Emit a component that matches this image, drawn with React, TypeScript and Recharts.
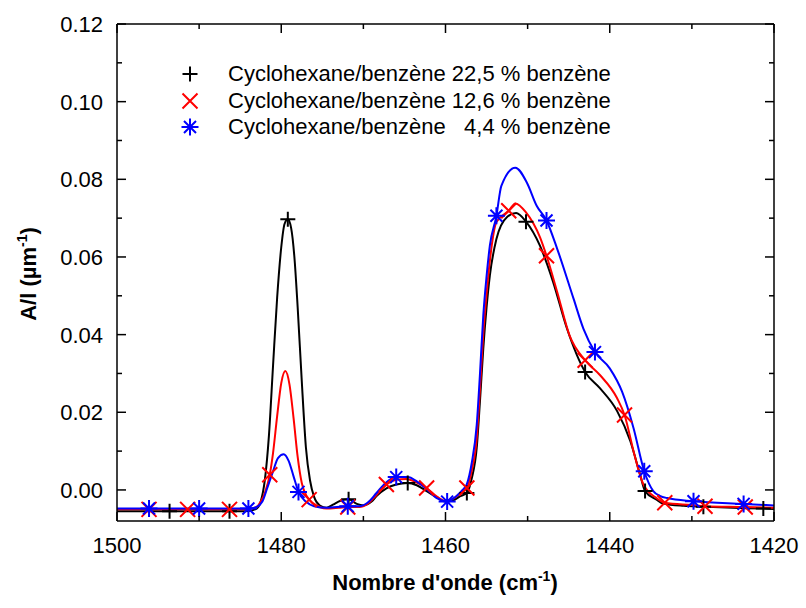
import React from "react";
import { ComposedChart, Line, Scatter, XAxis, YAxis, Legend } from "recharts";

type Pt = [number, number];

const FONT = "'Liberation Sans', Arial, sans-serif";

const xTicks = [1500, 1490, 1480, 1470, 1460, 1450, 1440, 1430, 1420];
const yTicks = [0, 0.01, 0.02, 0.03, 0.04, 0.05, 0.06, 0.07, 0.08, 0.09, 0.1, 0.11, 0.12];

const seriesNames = [
  "Cyclohexane/benzène 22,5 % benzène",
  "Cyclohexane/benzène 12,6 % benzène",
  "Cyclohexane/benzène   4,4 % benzène",
];

// curves (x = nombre d'onde, y = A/l)
const blackCurve: Pt[] = [
  [1500, -0.0055], [1490, -0.0055], [1485, -0.0055], [1484, -0.0054], [1483, -0.0048],
  [1482.5, -0.003], [1482, 0.0025], [1481.5, 0.014], [1481, 0.032], [1480.5, 0.0495],
  [1480, 0.0625], [1479.6, 0.0685], [1479.2, 0.0697], [1478.8, 0.0675], [1478.4, 0.06],
  [1478, 0.047], [1477.5, 0.028], [1477, 0.011], [1476.5, 0.0025], [1476, -0.0018],
  [1475.3, -0.004], [1474.5, -0.0046], [1473.7, -0.0038], [1472.8, -0.0028], [1471.8, -0.0024],
  [1470.8, -0.0036], [1470, -0.004], [1469, -0.003], [1468.4, -0.0016], [1467.2, 0.0004],
  [1466, 0.0014], [1464.6, 0.0018], [1463.5, 0.0012], [1462.3, -0.0003], [1461, -0.002],
  [1460, -0.003], [1459, -0.0026], [1458.2, -0.0016], [1457.4, -0.0008], [1456.8, 0.003],
  [1456.2, 0.0108], [1455.8, 0.023], [1455.4, 0.0364], [1455, 0.047], [1454.6, 0.0552],
  [1453.8, 0.0646], [1452.5, 0.0703], [1451.4, 0.0713], [1450.2, 0.0691], [1448.5, 0.0629],
  [1446.9, 0.0536], [1445.2, 0.0415], [1443, 0.0304], [1441.2, 0.0262], [1439.1, 0.0203],
  [1437.5, 0.0126], [1436.3, 0.0039], [1435.7, -0.0003], [1434.3, -0.0025], [1433.5, -0.0035],
  [1431, -0.0041], [1428.6, -0.0043], [1425, -0.0046], [1421.3, -0.0048], [1420, -0.0049],
];

const redCurve: Pt[] = [
  [1500, -0.005], [1490, -0.005], [1485, -0.005], [1484, -0.0049], [1483, -0.0044],
  [1482.5, -0.003], [1482, -0.0008], [1481.4, 0.0039], [1481, 0.0095], [1480.5, 0.019],
  [1480, 0.0275], [1479.5, 0.0306], [1479, 0.0272], [1478.5, 0.0185], [1478, 0.0085],
  [1477.5, 0.0018], [1476.6, -0.0025], [1475.5, -0.0042], [1474.5, -0.0048], [1473, -0.0046],
  [1471.9, -0.0044], [1470.5, -0.0044], [1469.5, -0.0036], [1468.4, -0.0013], [1467.2, 0.0014],
  [1466, 0.0026], [1464.8, 0.0028], [1463.5, 0.0019], [1462.3, 0.0005], [1461, -0.0018],
  [1460, -0.0028], [1459, -0.0022], [1458.2, -0.0008], [1457.4, 0.0005], [1456.8, 0.005],
  [1456.2, 0.0133], [1455.8, 0.026], [1455.4, 0.0402], [1455, 0.0505], [1454.6, 0.059],
  [1453.8, 0.069], [1452.3, 0.0719], [1451.5, 0.0738], [1450.2, 0.0715], [1448.5, 0.0651],
  [1447.7, 0.0603], [1446.4, 0.051], [1444.9, 0.0398], [1443, 0.0334], [1441.2, 0.0296],
  [1439.1, 0.0236], [1438.2, 0.0193], [1437, 0.0091], [1435.9, 0.0014], [1434.3, -0.0021],
  [1433.3, -0.0033], [1430, -0.0039], [1428.4, -0.0042], [1423.5, -0.0044], [1420, -0.0046],
];

const blueCurve: Pt[] = [
  [1500, -0.0048], [1490, -0.0048], [1484, -0.0048], [1483, -0.0044], [1482.3, -0.003],
  [1481.7, 0.0005], [1481, 0.0048], [1480.4, 0.0082], [1479.7, 0.0092], [1479.1, 0.0075],
  [1478.5, 0.0035], [1477.9, -0.0005], [1477, -0.003], [1476, -0.0042], [1474.5, -0.0046],
  [1471.9, -0.0042], [1470.5, -0.0042], [1469.5, -0.0033], [1468.4, -0.0008], [1467.3, 0.0018],
  [1466, 0.0033], [1464.6, 0.0033], [1463.5, 0.0022], [1462.3, 0.0002], [1461, -0.0022],
  [1459.8, -0.003], [1458.8, -0.0018], [1458, -0.0002], [1457.4, 0.0015], [1456.8, 0.007],
  [1456.2, 0.0167], [1455.8, 0.03], [1455.4, 0.0449], [1455, 0.055], [1454.6, 0.0629],
  [1453.8, 0.0706], [1453.2, 0.0783], [1451.5, 0.083], [1450.1, 0.0792], [1448.9, 0.0732],
  [1447.7, 0.0694], [1446.4, 0.0621], [1444.4, 0.0492], [1443.2, 0.0415], [1441.8, 0.0355],
  [1440, 0.0313], [1438.5, 0.0253], [1437.1, 0.0159], [1435.8, 0.0048], [1434.7, -0.0003],
  [1433.9, -0.0015], [1433, -0.0021], [1429.8, -0.0029], [1423.7, -0.0036], [1420, -0.004],
];

// symbol positions
const blackMarks: Pt[] = [
  [1493.6, -0.0055], [1486.3, -0.0055], [1479.2, 0.0697], [1471.8, -0.0024], [1464.6, 0.0018],
  [1457.4, -0.0008], [1450.2, 0.0691], [1443, 0.0304], [1435.7, -0.0003], [1428.6, -0.0043],
  [1421.3, -0.0048],
];
const redMarks: Pt[] = [
  [1496.1, -0.005], [1491.4, -0.005], [1486.3, -0.005], [1481.4, 0.0039], [1476.6, -0.0025],
  [1471.9, -0.0044], [1467.2, 0.0014], [1462.3, 0.0005], [1457.4, 0.0005], [1452.3, 0.0719],
  [1447.7, 0.0603], [1443, 0.0334], [1438.2, 0.0193], [1433.3, -0.0033], [1428.4, -0.0042],
  [1423.5, -0.0044],
];
const blueMarks: Pt[] = [
  [1496.1, -0.0048], [1490, -0.0048], [1484, -0.0048], [1477.9, -0.0005], [1471.9, -0.0042],
  [1466, 0.0033], [1459.8, -0.003], [1453.8, 0.0706], [1447.7, 0.0694], [1441.8, 0.0355],
  [1435.8, 0.0048], [1429.8, -0.0029], [1423.7, -0.0036],
];

const toRows = (pts: Pt[]) => pts.map(([x, y]) => ({ x, y }));

const TM = 4; // tick margin used to recover the axis line position
const MAJOR = 9;
const MINOR = 5;

type Kind = "plus" | "cross" | "star";

function Marker({ kind, cx, cy, color }: { kind: Kind; cx: number; cy: number; color: string }) {
  const s = kind === "plus" ? 7.5 : 8.5;
  const d = kind === "cross" ? 7.5 : 6;
  let path = "";
  if (kind === "plus") path = `M${cx - s},${cy}H${cx + s}M${cx},${cy - s}V${cy + s}`;
  else if (kind === "cross") path = `M${cx - d},${cy - d}L${cx + d},${cy + d}M${cx - d},${cy + d}L${cx + d},${cy - d}`;
  else
    path =
      `M${cx - s},${cy}H${cx + s}M${cx},${cy - s}V${cy + s}` +
      `M${cx - d},${cy - d}L${cx + d},${cy + d}M${cx - d},${cy + d}L${cx + d},${cy - d}`;
  return <path d={path} stroke={color} strokeWidth={2} fill="none" />;
}

const isMajorX = (v: number) => v % 20 === 0;
const isMajorY = (v: number) => Math.round(v * 100) % 2 === 0;

function BottomTick(props: any) {
  const { x, y, payload } = props;
  const v = payload.value;
  const base = y - TM;
  return (
    <g>
      <line x1={x} x2={x} y1={base} y2={base - (isMajorX(v) ? MAJOR : MINOR)} stroke="#000" strokeWidth={1.5} />
      {isMajorX(v) && (
        <text x={x} y={base + 32} textAnchor="middle" fontSize={22} fontFamily={FONT} fill="#000">
          {v}
        </text>
      )}
    </g>
  );
}

function TopTick(props: any) {
  const { x, y, payload } = props;
  const base = y + TM;
  return <line x1={x} x2={x} y1={base} y2={base + (isMajorX(payload.value) ? MAJOR : MINOR)} stroke="#000" strokeWidth={1.5} />;
}

function LeftTick(props: any) {
  const { x, y, payload } = props;
  const v = payload.value;
  const base = x + TM;
  return (
    <g>
      <line x1={base} x2={base + (isMajorY(v) ? MAJOR : MINOR)} y1={y} y2={y} stroke="#000" strokeWidth={1.5} />
      {isMajorY(v) && (
        <text x={base - 14} y={y + 8} textAnchor="end" fontSize={22} fontFamily={FONT} fill="#000">
          {v.toFixed(2)}
        </text>
      )}
    </g>
  );
}

function RightTick(props: any) {
  const { x, y, payload } = props;
  const base = x - TM;
  return <line x1={base} x2={base - (isMajorY(payload.value) ? MAJOR : MINOR)} y1={y} y2={y} stroke="#000" strokeWidth={1.5} />;
}

const legendRows: { kind: Kind; color: string; name: string }[] = [
  { kind: "plus", color: "#000000", name: seriesNames[0] },
  { kind: "cross", color: "#ff0000", name: seriesNames[1] },
  { kind: "star", color: "#0000ff", name: seriesNames[2] },
];

function LegendBox() {
  return (
    <div style={{ fontFamily: FONT, fontSize: 22, color: "#000" }}>
      {legendRows.map((r) => (
        <div key={r.name} style={{ display: "flex", alignItems: "center", height: 26.5 }}>
          <svg width={24} height={22} style={{ marginRight: 26 }}>
            <Marker kind={r.kind} cx={12} cy={11} color={r.color} />
          </svg>
          <span style={{ whiteSpace: "pre" }}>{r.name}</span>
        </div>
      ))}
    </div>
  );
}

export default function App() {
  const axisLine = { stroke: "#000", strokeWidth: 1.5 };
  const series: { curve: Pt[]; marks: Pt[]; color: string; kind: Kind }[] = [
    { curve: blackCurve, marks: blackMarks, color: "#000000", kind: "plus" },
    { curve: redCurve, marks: redMarks, color: "#ff0000", kind: "cross" },
    { curve: blueCurve, marks: blueMarks, color: "#0000ff", kind: "star" },
  ];

  return (
    <div style={{ position: "absolute", left: 0, top: 0, background: "#fff" }}>
      <ComposedChart width={806} height={608} margin={{ top: 14, right: 22, bottom: 27, left: 47 }}>
        <XAxis
          xAxisId="b"
          dataKey="x"
          type="number"
          domain={[1420, 1500]}
          reversed
          allowDataOverflow
          ticks={xTicks}
          interval={0}
          height={60}
          tickSize={0}
          tickMargin={TM}
          tickLine={false}
          axisLine={axisLine}
          tick={<BottomTick />}
          label={{
            content: () => (
              <text x={445} y={590} textAnchor="middle" fontSize={22} fontWeight="bold" fontFamily={FONT} fill="#000">
                <tspan>Nombre d'onde (cm</tspan>
                <tspan dy={-9} fontSize={14}>-1</tspan>
                <tspan dy={9}>)</tspan>
              </text>
            ),
          }}
        />
        <XAxis
          xAxisId="t"
          dataKey="x"
          type="number"
          orientation="top"
          domain={[1420, 1500]}
          reversed
          allowDataOverflow
          ticks={xTicks}
          interval={0}
          height={10}
          tickSize={0}
          tickMargin={TM}
          tickLine={false}
          axisLine={axisLine}
          tick={<TopTick />}
        />
        <YAxis
          yAxisId="l"
          type="number"
          domain={[-0.008, 0.12]}
          allowDataOverflow
          ticks={yTicks}
          interval={0}
          width={70}
          tickSize={0}
          tickMargin={TM}
          tickLine={false}
          axisLine={axisLine}
          tick={<LeftTick />}
          label={{
            content: () => (
              <text
                x={0}
                y={0}
                transform="translate(36,274) rotate(-90)"
                textAnchor="middle"
                fontSize={22}
                fontWeight="bold"
                fontFamily={FONT}
                fill="#000"
              >
                <tspan>A/l (µm</tspan>
                <tspan dy={-9} fontSize={14}>-1</tspan>
                <tspan dy={9}>)</tspan>
              </text>
            ),
          }}
        />
        <YAxis
          yAxisId="r"
          orientation="right"
          type="number"
          domain={[-0.008, 0.12]}
          allowDataOverflow
          ticks={yTicks}
          interval={0}
          width={10}
          tickSize={0}
          tickMargin={TM}
          tickLine={false}
          axisLine={axisLine}
          tick={<RightTick />}
        />
        <Legend
          layout="vertical"
          align="center"
          verticalAlign="middle"
          wrapperStyle={{ left: 178, top: 61, width: "auto" }}
          content={() => <LegendBox />}
        />
        {series.map((s, i) => (
          <Line
            key={"c" + i}
            xAxisId="b"
            yAxisId="l"
            data={toRows(s.curve)}
            dataKey="y"
            type="monotone"
            stroke={s.color}
            strokeWidth={2}
            dot={false}
            activeDot={false}
            isAnimationActive={false}
          />
        ))}
        {series.map((s, i) => (
          <Scatter
            key={"m" + i}
            xAxisId="b"
            yAxisId="l"
            data={toRows(s.marks)}
            dataKey="y"
            isAnimationActive={false}
            shape={(p: any) => <Marker kind={s.kind} cx={p.cx} cy={p.cy} color={s.color} />}
          />
        ))}
      </ComposedChart>
    </div>
  );
}
